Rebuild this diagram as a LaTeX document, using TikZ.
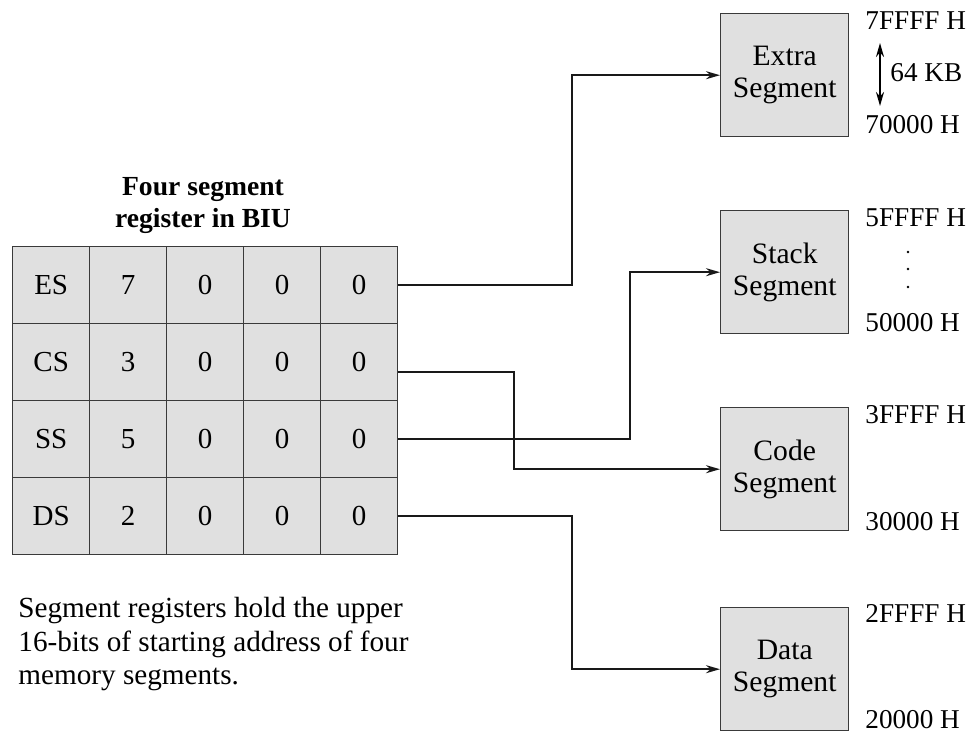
\documentclass[tikz,border=0pt]{standalone}
\usepackage{fontspec}
\setmainfont{Liberation Serif}
\usetikzlibrary{arrows.meta,calc}
\definecolor{boxgray}{HTML}{E0E0E0}
\definecolor{edgegray}{HTML}{3A3A3A}
\tikzset{
  cell/.style={draw=edgegray, fill=boxgray, line width=0.7pt, minimum width=38.5pt, minimum height=38.5pt, inner sep=0pt, anchor=north west, font=\fontsize{14.5}{16}\selectfont},
  segbox/.style={draw=edgegray, fill=boxgray, line width=0.7pt, minimum width=64pt, minimum height=61.5pt, inner sep=0pt, anchor=north west, align=center, font=\fontsize{14.8}{15.8}\selectfont},
  addr/.style={anchor=base west, inner sep=0pt, font=\fontsize{13.6}{15.5}\selectfont},
  conn/.style={line width=1pt, black!90, -{Stealth[length=7pt,width=4pt]}},
}
\begin{document}
\begin{tikzpicture}[x=0.5pt,y=-0.5pt]
\useasboundingbox (0,0) rectangle (970,732);
% table
\foreach \r/\name/\lab/\d [count=\i from 0] in {0/es/ES/7, 1/cs/CS/3, 2/ss/SS/5, 3/ds/DS/2}{
  \node[cell] (\name0) at (12,246+77*\i) {\lab};
  \node[cell] (\name1) at (89,246+77*\i) {\d};
  \node[cell] (\name2) at (166,246+77*\i) {0};
  \node[cell] (\name3) at (243,246+77*\i) {0};
  \node[cell] (\name4) at (320,246+77*\i) {0};
}
\node[align=center, inner sep=0pt, font=\fontsize{13.8}{16}\selectfont\bfseries] (title) at (203,206) {Four segment\\register in BIU};
% segment boxes
\node[segbox] (extra) at (720,13) {Extra\\Segment};
\node[segbox] (stack) at (720,210) {Stack\\Segment};
\node[segbox] (code) at (720,407) {Code\\Segment};
\node[segbox] (data) at (720,607) {Data\\Segment};
% addresses
\node[addr] (a7f) at (865,30) {7FFFF H};
\node[addr] (a70) at (865,134) {70000 H};
\node[addr] (a64) at (890,82) {64 KB};
\node[addr] (a5f) at (865,227) {5FFFF H};
\node[addr] (a50) at (865,332) {50000 H};
\node[addr] (a3f) at (865,424) {3FFFF H};
\node[addr] (a30) at (865,531) {30000 H};
\node[addr] (a2f) at (865,623) {2FFFF H};
\node[addr] (a20) at (865,728) {20000 H};
\coordinate (dtop) at (880,43);
\coordinate (dbot) at (880,106);
\draw[line width=1pt, {Stealth[length=7pt,width=4pt]}-{Stealth[length=7pt,width=4pt]}] (dtop) -- (dbot);
\foreach \yy in {252,269,287} \fill (908,\yy) circle (1.4);
% note
\node[anchor=north west, align=left, inner sep=0pt, font=\fontsize{14.6}{16.8}\selectfont] (note) at (18,597) {Segment registers hold the upper\\16-bits of starting address of four\\memory segments.};
% connectors
\draw[conn] (es4.east) -- ++(174,0) |- (extra.west);
\draw[conn] ([yshift=-5pt]cs4.east) -- ++(116,0) |- (code.west);
\draw[conn] (ss4.east) -- ++(232,0) |- (stack.west);
\draw[conn] (ds4.east) -- ++(174,0) |- (data.west);
\end{tikzpicture}
\end{document}
